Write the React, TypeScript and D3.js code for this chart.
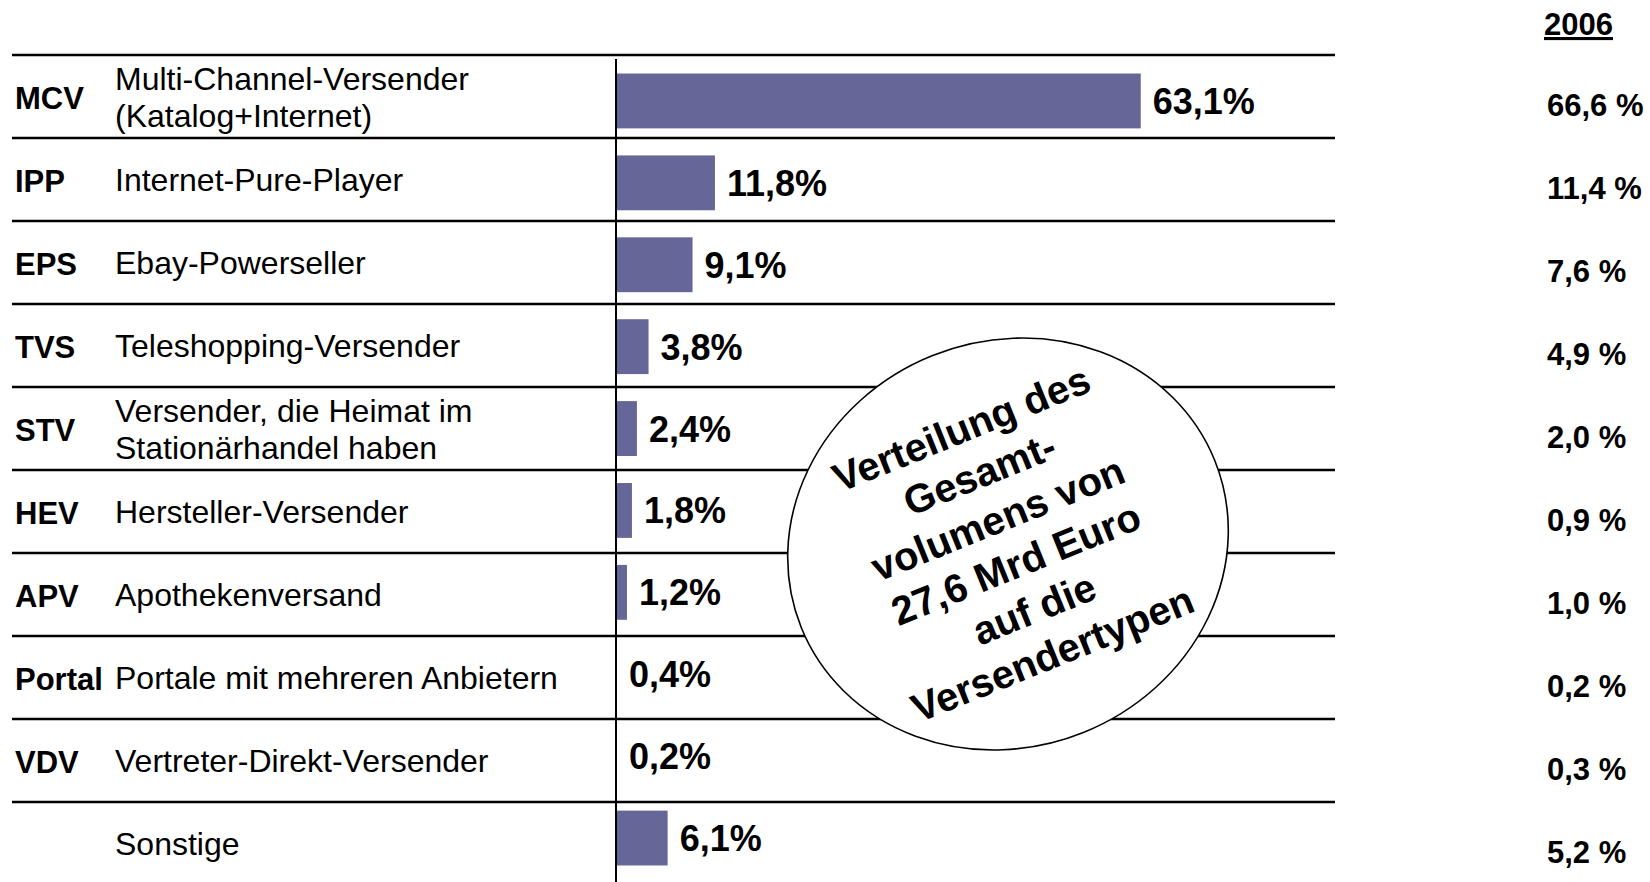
import React, { useEffect } from "react";
import * as d3 from "d3";

const abbrevs = ["MCV", "IPP", "EPS", "TVS", "STV", "HEV", "APV", "Portal", "VDV", ""];
const descriptions = [
  ["Multi-Channel-Versender", "(Katalog+Internet)"],
  ["Internet-Pure-Player"],
  ["Ebay-Powerseller"],
  ["Teleshopping-Versender"],
  ["Versender, die Heimat im", "Stationärhandel haben"],
  ["Hersteller-Versender"],
  ["Apothekenversand"],
  ["Portale mit mehreren Anbietern"],
  ["Vertreter-Direkt-Versender"],
  ["Sonstige"],
];
const shares = [63.1, 11.8, 9.1, 3.8, 2.4, 1.8, 1.2, 0.4, 0.2, 6.1];
const shares2006 = [66.6, 11.4, 7.6, 4.9, 2.0, 0.9, 1.0, 0.2, 0.3, 5.2];
const compareHeader = "2006";
const bubbleLines = [
  "Verteilung des",
  "Gesamt-",
  "volumens von",
  "27,6 Mrd Euro",
  "auf die",
  "Versendertypen",
];

const W = 1650;
const H = 882;
const FONT = "'Liberation Sans', Arial, Helvetica, sans-serif";
const BAR_COLOR = "#666699";

const fmt = (v: number) => v.toFixed(1).replace(".", ",");

export default function App() {
  useEffect(() => {
    document.body.style.margin = "0";
  }, []);

  const idx = abbrevs.map((_, i) => String(i));

  // row band (lines + left text)
  const rowY = d3.scaleBand<string>().domain(idx).range([55, 55 + 83 * 10]).padding(0);
  // bar band (bars + value labels)
  const barY = d3
    .scaleBand<string>()
    .domain(idx)
    .range([60, 879])
    .paddingInner(0.33)
    .paddingOuter(0.165);
  const x = d3.scaleLinear().domain([0, 100]).range([616, 616 + 830]);

  const lineX0 = 12;
  const lineX1 = 1335;
  const rowH = rowY.bandwidth();

  const cx = 1008;
  const cy = 544;
  const lineGap = 48.6;

  return (
    <svg
      width={W}
      height={H}
      style={{ position: "absolute", left: 0, top: 0, background: "#fff" }}
      fontFamily={FONT}
    >
      <rect x={0} y={0} width={W} height={H} fill="#fff" />

      {/* horizontal row lines */}
      {idx.map((k) => (
        <line
          key={"l" + k}
          x1={lineX0}
          x2={lineX1}
          y1={rowY(k)!}
          y2={rowY(k)!}
          stroke="#000"
          strokeWidth={2.3}
        />
      ))}

      {/* axis */}
      <line x1={x(0)} x2={x(0)} y1={59} y2={H} stroke="#000" strokeWidth={2} />

      {/* bars */}
      {shares.map((v, i) =>
        v >= 0.5 ? (
          <rect
            key={"b" + i}
            x={x(0) + 1}
            y={barY(String(i))!}
            width={x(v) - x(0)}
            height={barY.bandwidth()}
            fill={BAR_COLOR}
          />
        ) : null
      )}

      {/* value labels */}
      {shares.map((v, i) => (
        <text
          key={"v" + i}
          x={(v >= 0.5 ? x(v) : x(0)) + 13}
          y={barY(String(i))! + barY.bandwidth() / 2 + 13}
          fontSize={36}
          fontWeight="bold"
          fill="#000"
        >
          {fmt(v)}%
        </text>
      ))}

      {/* left text */}
      {abbrevs.map((a, i) => {
        const c = rowY(String(i))! + rowH / 2;
        const lines = descriptions[i];
        const gap = 37;
        return (
          <g key={"t" + i}>
            <text x={15} y={c + 12} fontSize={31} fontWeight="bold" fill="#000">
              {a}
            </text>
            {lines.map((ln, j) => (
              <text
                key={j}
                x={115}
                y={c + 11.5 + (j - (lines.length - 1) / 2) * gap}
                fontSize={32}
                fill="#000"
              >
                {ln}
              </text>
            ))}
          </g>
        );
      })}

      {/* right comparison column */}
      <text x={1544} y={35} fontSize={31} fontWeight="bold" fill="#000" textDecoration="underline">
        {compareHeader}
      </text>
      {shares2006.map((v, i) => (
        <text
          key={"r" + i}
          x={1547}
          y={rowY(String(i))! + rowH / 2 + 19}
          fontSize={31}
          fontWeight="bold"
          fill="#000"
        >
          {fmt(v)} %
        </text>
      ))}

      {/* bubble */}
      <g transform={`translate(${cx},${cy}) rotate(-22)`}>
        <ellipse cx={0} cy={0} rx={223} ry={203} fill="#fff" stroke="#000" strokeWidth={1.6} />
        {bubbleLines.map((ln, i) => (
          <text
            key={"c" + i}
            x={0}
            y={(i - (bubbleLines.length - 1) / 2) * lineGap + 14 - 3}
            fontSize={40}
            fontWeight="bold"
            textAnchor="middle"
            fill="#000"
          >
            {ln}
          </text>
        ))}
      </g>
    </svg>
  );
}
